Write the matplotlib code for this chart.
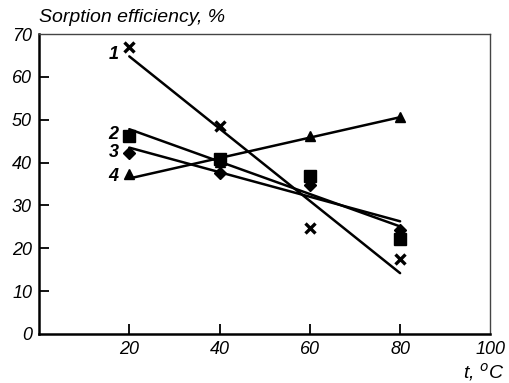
import numpy as np
import matplotlib.pyplot as plt

plt.rcParams['font.family'] = ['Liberation Sans', 'DejaVu Sans']

t = [20, 40, 60, 80]
s1 = [67.0, 48.5, 24.7, 17.5]
s2 = [46.2, 40.8, 36.9, 22.2]
s3 = [42.2, 37.6, 34.8, 24.3]
s4 = [37.3, 40.1, 46.2, 50.6]

# straight fit lines as drawn in the figure (end points at 20 and 80 C)
line_t = [20, 80]
fit1 = [64.8, 14.2]
fit2 = [47.8, 25.1]
fit3 = [43.5, 26.3]
fit4 = [36.3, 50.6]

labels = ['1', '2', '3', '4']
label_y = [65.3, 46.5, 42.3, 36.8]

fig = plt.figure(figsize=(5.1, 3.83), dpi=100)
ax = fig.add_axes([0.0765, 0.128, 0.885, 0.783])

for fy in [fit1, fit2, fit3, fit4]:
    ax.plot(line_t, fy, color='black', lw=1.8, solid_capstyle='round')

ax.plot(t, s1, ls='none', marker='x', color='black', ms=6.5, mew=2.4)
ax.plot(t, s2, ls='none', marker='s', color='black', ms=8.5)
ax.plot(t, s3, ls='none', marker='D', color='black', ms=6.5)
ax.plot(t, s4, ls='none', marker='^', color='black', ms=7.5)

for lab, ly in zip(labels, label_y):
    ax.text(17.6, ly, lab, ha='right', va='center', fontsize=13,
            fontweight='bold', fontstyle='italic')

ax.set_xlim(0, 100)
ax.set_ylim(0, 70)
ax.set_xticks([20, 40, 60, 80, 100])
ax.set_yticks([0, 10, 20, 30, 40, 50, 60, 70])
ax.tick_params(direction='in', length=7, width=1.3, labelsize=13, pad=5)
for lab in ax.get_xticklabels() + ax.get_yticklabels():
    lab.set_fontstyle('italic')
ax.xaxis.get_major_ticks()[-1].tick1line.set_visible(False)
ax.yaxis.get_major_ticks()[-1].tick1line.set_visible(False)
ax.yaxis.get_major_ticks()[0].tick1line.set_visible(False)

ax.spines['left'].set_linewidth(1.8)
ax.spines['bottom'].set_linewidth(1.8)
ax.spines['top'].set_linewidth(1.0)
ax.spines['right'].set_linewidth(1.0)
ax.spines['top'].set_color('#444444')
ax.spines['right'].set_color('#444444')

fig.text(0.077, 0.932, 'Sorption efficiency, %', fontsize=14,
         fontstyle='italic', ha='left', va='bottom')
fig.text(0.99, 0.0, r't, $^{o}$C', fontsize=14, fontstyle='italic',
         ha='right', va='bottom')

fig.savefig('out.png', dpi=100)
